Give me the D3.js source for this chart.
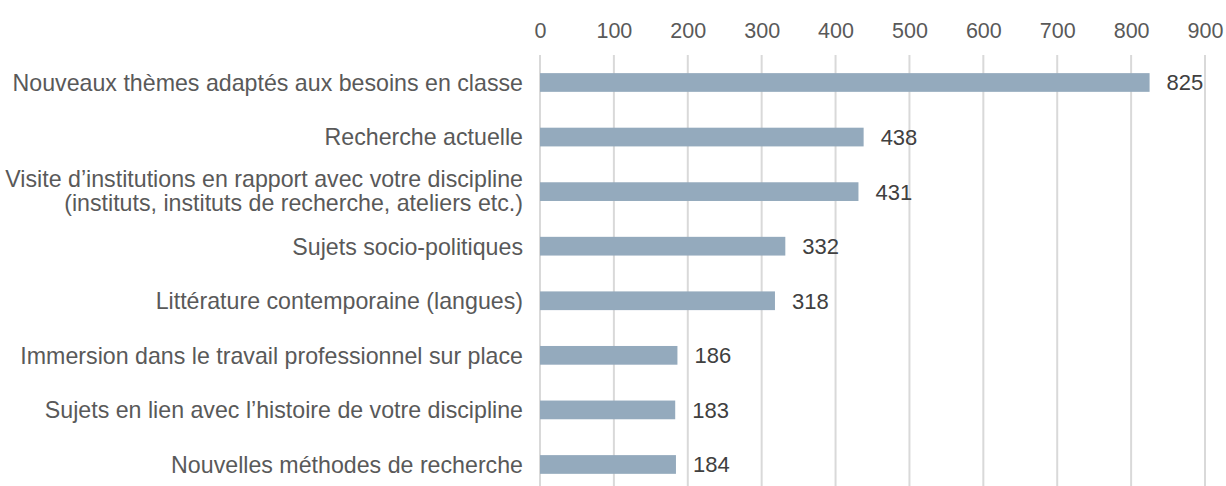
<!DOCTYPE html>
<html>
<head>
<meta charset="utf-8">
<script src="https://cdn.jsdelivr.net/npm/d3@7"></script>
<style>
  body { margin: 0; background: #fff; }
  svg { display: block; font-family: "Liberation Sans", Arial, sans-serif; }
</style>
</head>
<body>
<svg id="chart"></svg>
<script>
// chart data
const categories = [
  ['Nouveaux thèmes adaptés aux besoins en classe'],
  ['Recherche actuelle'],
  ['Visite d\u2019institutions en rapport avec votre discipline', '(instituts, instituts de recherche, ateliers etc.)'],
  ['Sujets socio-politiques'],
  ['Littérature contemporaine (langues)'],
  ['Immersion dans le travail professionnel sur place'],
  ['Sujets en lien avec l\u2019histoire de votre discipline'],
  ['Nouvelles méthodes de recherche']
]
const values = [825, 438, 431, 332, 318, 186, 183, 184]
const xTicks = [0, 100, 200, 300, 400, 500, 600, 700, 800, 900]

const w = 1226
const h = 486

const svg = d3.select('#chart')
  .attr('width', w)
  .attr('height', h)

// scales
const xScale = d3.scaleLinear()
  .domain([0, 900])
  .range([540, 1205])

const yScale = d3.scaleBand()
  .domain(d3.range(values.length))
  .range([55.2, 55.2 + 54.57 * 8])
  .paddingInner(0.657)
  .paddingOuter(0.3285)

// grid lines
svg.append('g')
  .selectAll('line')
  .data(xTicks)
  .enter().append('line')
  .attr('x1', d => xScale(d))
  .attr('x2', d => xScale(d))
  .attr('y1', 55)
  .attr('y2', h)
  .attr('stroke', '#d9d9d9')
  .attr('stroke-width', 2)

// top axis labels
const xAxis = d3.axisTop(xScale)
  .tickValues(xTicks)
  .tickSize(0)
  .tickPadding(0)

const gx = svg.append('g')
  .attr('transform', 'translate(0, 38)')
  .call(xAxis)
gx.select('.domain').remove()
gx.selectAll('text')
  .attr('font-family', '"Liberation Sans", Arial, sans-serif')
  .attr('font-size', 21.5)
  .attr('fill', '#595959')

// bars
svg.append('g')
  .selectAll('rect')
  .data(values)
  .enter().append('rect')
  .attr('x', xScale(0))
  .attr('y', (d, i) => yScale(i))
  .attr('width', d => xScale(d) - xScale(0))
  .attr('height', yScale.bandwidth())
  .attr('fill', '#94aabd')

// value labels
svg.append('g')
  .selectAll('text')
  .data(values)
  .enter().append('text')
  .attr('x', d => xScale(d) + 17)
  .attr('y', (d, i) => yScale(i) + yScale.bandwidth() / 2)
  .attr('dy', '0.36em')
  .attr('font-size', 22)
  .attr('fill', '#404040')
  .text(d => d)

// category labels
const cat = svg.append('g')
  .selectAll('text')
  .data(categories)
  .enter().append('text')
  .attr('x', 523)
  .attr('y', (d, i) => yScale(i) + yScale.bandwidth() / 2)
  .attr('text-anchor', 'end')
  .attr('font-size', 23.2)
  .attr('fill', '#595959')

cat.selectAll('tspan')
  .data(d => d.map((t, j) => ({ t, j, n: d.length })))
  .enter().append('tspan')
  .attr('x', 523)
  .attr('dy', d => d.j === 0 ? (0.36 - (d.n - 1) * 0.56) + 'em' : '1.04em')
  .text(d => d.t)
</script>
</body>
</html>
